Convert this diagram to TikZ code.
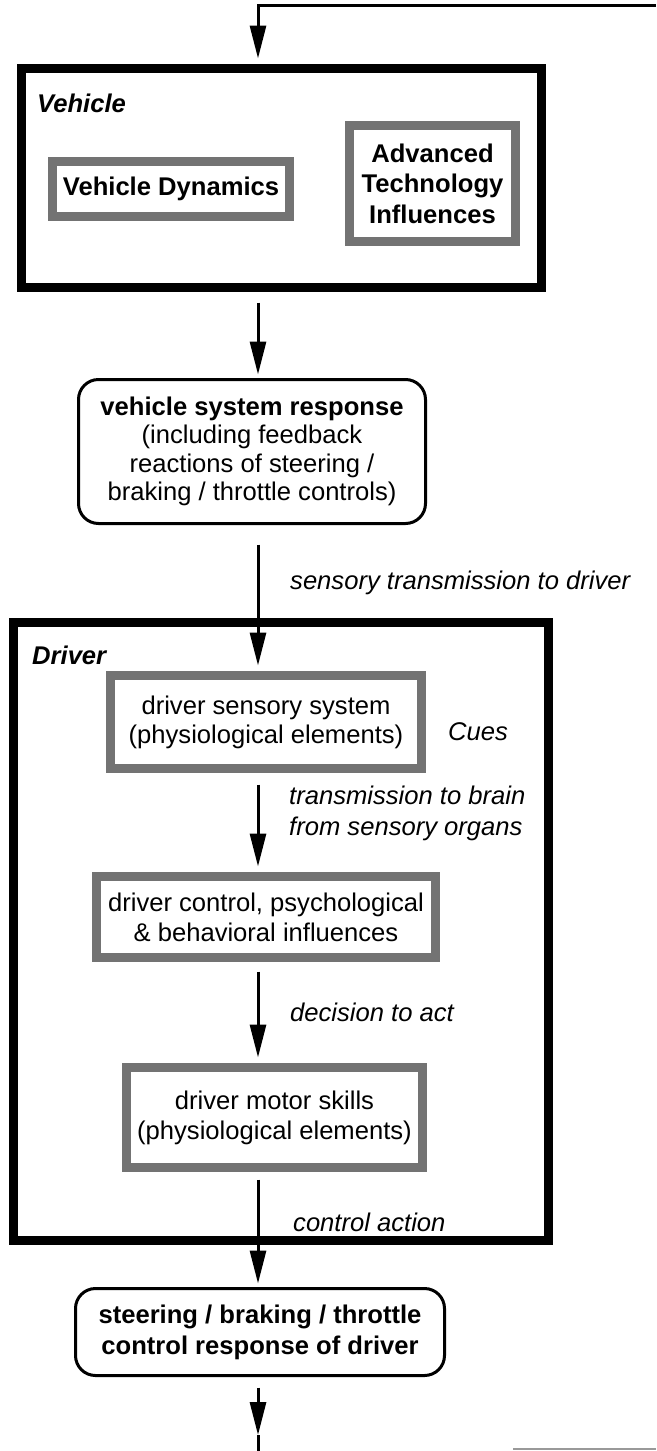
\documentclass[tikz,border=0pt]{standalone}
\usepackage{fontspec}
\setmainfont{Liberation Sans}
\usetikzlibrary{arrows.meta}
\begin{document}
\begin{tikzpicture}[x=1pt,y=-1pt,
  font=\fontsize{25.6}{30}\selectfont,
  outerbox/.style={draw=black, line width=9pt, inner sep=0pt, outer sep=0pt},
  hatchbox/.style={draw=black!55, line width=9pt, inner sep=0pt, outer sep=0pt, align=center},
  roundbox/.style={draw=black, line width=3pt, rounded corners=20pt, inner sep=0pt, outer sep=0pt, align=center},
  boxtitle/.style={font=\fontsize{25.6}{30}\selectfont\bfseries\itshape, anchor=base west, inner sep=0pt},
  note/.style={font=\fontsize{25.6}{31}\selectfont\itshape, align=left, anchor=west, inner sep=0pt},
  flow/.style={line width=3pt, -{Triangle[length=33pt,width=16pt]}},
]
\useasboundingbox (0,0) rectangle (656,1451);

% column of the main flow and the free ends of the feedback loop
\coordinate (ax) at (258,0);
\coordinate (fbright) at (656,5);
\coordinate (tipb) at (258,1435);
\coordinate (out) at (258,1451);
\coordinate (ret1) at (513,1449);
\coordinate (ret2) at (656,1449);

% vehicle block
\node[outerbox, minimum width=520pt, minimum height=219pt] (vehicle) at (281.5,178) {};
\node[boxtitle] (vehtitle) at (37,112) {Vehicle};
\node[hatchbox, minimum width=237pt, minimum height=55pt, font=\fontsize{25.6}{30}\selectfont\bfseries] (dyn) at (171,189) {Vehicle Dynamics};
\node[hatchbox, minimum width=166pt, minimum height=116pt, font=\fontsize{25.6}{30.5}\selectfont\bfseries] (adv) at (432.5,183.5) {Advanced\\Technology\\Influences};

% vehicle response
\node[roundbox, minimum width=347pt, minimum height=144pt, font=\fontsize{25.6}{28.5}\selectfont] (resp) at (252,451.5)
  {\textbf{vehicle system response}\\(including feedback\\reactions of steering /\\braking / throttle controls)};

% driver block
\node[outerbox, minimum width=535pt, minimum height=618pt] (driver) at (281,931.5) {};
\node[boxtitle] (drvtitle) at (32,664) {Driver};
\node[hatchbox, minimum width=311pt, minimum height=93pt, font=\fontsize{25.6}{29}\selectfont] (sensory) at (266,722)
  {driver sensory system\\(physiological elements)};
\node[hatchbox, minimum width=339pt, minimum height=81pt, font=\fontsize{25.6}{30}\selectfont] (control) at (266,917)
  {driver control, psychological\\\& behavioral influences};
\node[hatchbox, minimum width=296pt, minimum height=100pt, font=\fontsize{25.6}{30}\selectfont] (motor) at (274.5,1117.5)
  {driver motor skills\\(physiological elements)};
\node[note, anchor=center] (cues) at (478,732) {Cues};

% driver output
\node[roundbox, minimum width=369pt, minimum height=87pt, font=\fontsize{25.6}{31}\selectfont\bfseries] (steer) at (260,1332)
  {steering / braking / throttle\\control response of driver};

% connectors
\draw[flow, shorten >=10pt] (fbright) -| (vehicle.north -| ax);
\draw[flow, shorten <=15pt, shorten >=5pt] (vehicle.south -| ax) -- (resp.north -| ax);
\draw[flow, shorten <=21pt, shorten >=10pt] (resp.south -| ax) -- (sensory.north -| ax);
\draw[flow, shorten <=16pt, shorten >=10pt] (sensory.south -| ax) -- (control.north -| ax);
\draw[flow, shorten <=14pt, shorten >=10pt] (control.south -| ax) -- (motor.north -| ax);
\draw[flow, shorten <=12pt, shorten >=5pt] (motor.south -| ax) -- (steer.north -| ax);
\draw[flow, shorten <=12pt] (steer.south -| ax) -- (tipb);
\draw[line width=3pt] (tipb) -- (out);
\draw[black!40, line width=2pt] (ret1) -- (ret2);

% connector labels
\node[note] (lsens) at (290,583) {sensory transmission to driver};
\node[note] (lbrain) at (289,813) {transmission to brain\\from sensory organs};
\node[note] (ldec) at (290,1012) {decision to act};
\node[note] (lact) at (293,1222) {control action};
\end{tikzpicture}
\end{document}
